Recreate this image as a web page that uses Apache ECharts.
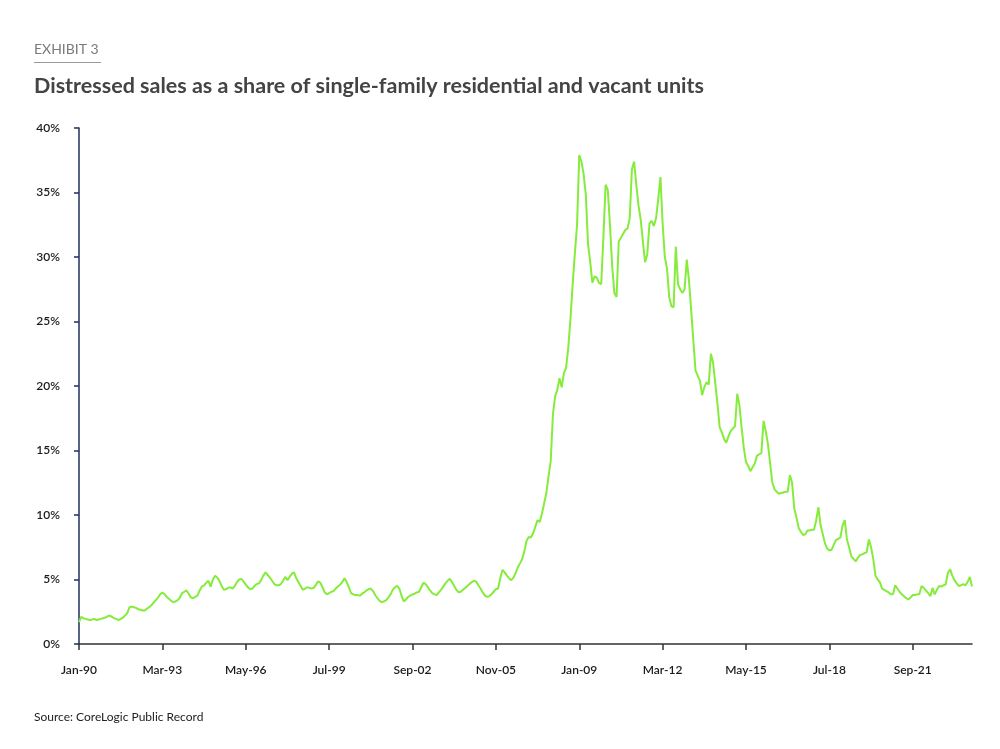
<!DOCTYPE html>
<html>
<head>
<meta charset="utf-8">
<script src="https://cdn.jsdelivr.net/npm/echarts@6/dist/echarts.min.js"></script>
<style>
html,body{margin:0;padding:0;background:#fff;}
#chart{width:1000px;height:749px;}
</style>
</head>
<body>
<div id="chart"></div>
<script>
// ---- Data (monthly, Jan 1990 - Dec 2023), % of sales ----
var startYear = 1990;
var monthNames = ['Jan','Feb','Mar','Apr','May','Jun','Jul','Aug','Sep','Oct','Nov','Dec'];

var v1990 = [1.7, 2.1, 2.0, 1.95, 1.9, 1.85, 1.9, 1.95, 1.85, 1.9, 1.95, 2.0];
var v1991 = [2.05, 2.15, 2.2, 2.1, 2.0, 1.95, 1.85, 1.95, 2.05, 2.2, 2.4, 2.85];
var v1992 = [2.9, 2.85, 2.8, 2.7, 2.65, 2.6, 2.6, 2.75, 2.85, 3.0, 3.2, 3.4];
var v1993 = [3.6, 3.85, 4.0, 3.85, 3.65, 3.5, 3.35, 3.25, 3.3, 3.4, 3.6, 3.95];
var v1994 = [4.05, 4.15, 3.9, 3.6, 3.55, 3.65, 3.75, 4.15, 4.45, 4.55, 4.75, 4.9];
var v1995 = [4.45, 5.0, 5.3, 5.15, 4.9, 4.5, 4.2, 4.25, 4.35, 4.4, 4.3, 4.5];
var v1996 = [4.8, 5.0, 5.05, 4.85, 4.6, 4.4, 4.25, 4.3, 4.5, 4.65, 4.7, 4.95];
var v1997 = [5.3, 5.55, 5.35, 5.15, 4.9, 4.65, 4.55, 4.55, 4.65, 4.9, 5.2, 4.95];
var v1998 = [5.2, 5.45, 5.55, 5.1, 4.8, 4.5, 4.2, 4.3, 4.4, 4.35, 4.3, 4.35];
var v1999 = [4.6, 4.85, 4.75, 4.4, 4.0, 3.85, 3.95, 4.05, 4.1, 4.3, 4.45, 4.6];
var v2000 = [4.8, 5.1, 4.8, 4.4, 3.95, 3.85, 3.8, 3.8, 3.75, 3.9, 4.0, 4.15];
var v2001 = [4.25, 4.3, 4.1, 3.8, 3.55, 3.35, 3.25, 3.3, 3.4, 3.6, 3.85, 4.2];
var v2002 = [4.4, 4.5, 4.3, 3.75, 3.3, 3.45, 3.65, 3.75, 3.85, 3.9, 4.0, 4.05];
var v2003 = [4.4, 4.75, 4.65, 4.4, 4.15, 3.95, 3.85, 3.8, 4.0, 4.2, 4.45, 4.7];
var v2004 = [4.9, 5.05, 4.8, 4.5, 4.2, 4.0, 4.05, 4.2, 4.35, 4.5, 4.65, 4.8];
var v2005 = [4.9, 4.85, 4.55, 4.3, 4.0, 3.75, 3.65, 3.7, 3.85, 4.05, 4.25, 4.3];
var v2006 = [5.1, 5.75, 5.55, 5.3, 5.1, 4.95, 5.15, 5.5, 5.95, 6.25, 6.6, 7.2];
var v2007 = [8.0, 8.3, 8.25, 8.6, 9.1, 9.6, 9.45, 10.1, 10.9, 11.7, 13.0, 14.2];
var v2008 = [17.8, 19.2, 19.7, 20.6, 19.9, 21.0, 21.4, 23.0, 25.2, 27.9, 30.3, 32.5];
var v2009 = [37.9, 37.4, 36.4, 34.8, 31.0, 29.6, 28.0, 28.5, 28.4, 28.0, 27.9, 31.5];
var v2010 = [35.6, 35.2, 32.5, 29.3, 27.2, 26.9, 31.2, 31.5, 31.8, 32.1, 32.2, 33.0];
var v2011 = [36.8, 37.4, 35.6, 34.0, 32.9, 31.2, 29.6, 30.2, 32.6, 32.8, 32.4, 33.0];
var v2012 = [34.5, 36.2, 32.6, 30.0, 29.1, 26.9, 26.2, 26.1, 30.8, 27.9, 27.5, 27.2];
var v2013 = [27.5, 29.8, 28.2, 25.9, 23.5, 21.2, 20.8, 20.4, 19.3, 19.9, 20.3, 20.1];
var v2014 = [22.5, 21.8, 20.2, 18.6, 16.8, 16.4, 15.9, 15.6, 16.1, 16.5, 16.7, 16.9];
var v2015 = [19.4, 18.5, 16.8, 15.2, 14.1, 13.8, 13.4, 13.7, 14.0, 14.6, 14.7, 14.8];
var v2016 = [17.3, 16.5, 15.5, 14.0, 12.5, 12.0, 11.8, 11.65, 11.7, 11.75, 11.8, 11.8];
var v2017 = [13.1, 12.5, 10.5, 9.8, 9.0, 8.7, 8.45, 8.5, 8.8, 8.8, 8.85, 8.85];
var v2018 = [9.6, 10.6, 9.2, 8.5, 7.8, 7.4, 7.25, 7.3, 7.7, 8.05, 8.15, 8.25];
var v2019 = [9.2, 9.6, 8.1, 7.5, 6.8, 6.6, 6.4, 6.7, 6.9, 6.95, 7.05, 7.1];
var v2020 = [8.1, 7.5, 6.6, 5.3, 5.0, 4.8, 4.3, 4.2, 4.1, 4.0, 3.85, 3.85];
var v2021 = [4.55, 4.3, 4.05, 3.85, 3.7, 3.55, 3.45, 3.6, 3.8, 3.8, 3.85, 3.85];
var v2022 = [4.5, 4.35, 4.15, 3.95, 3.7, 4.35, 3.85, 4.2, 4.5, 4.45, 4.55, 4.6];
var v2023 = [5.5, 5.8, 5.3, 4.95, 4.7, 4.5, 4.55, 4.65, 4.55, 4.8, 5.2, 4.45];

var yearly = [v1990,v1991,v1992,v1993,v1994,v1995,v1996,v1997,v1998,v1999,
              v2000,v2001,v2002,v2003,v2004,v2005,v2006,v2007,v2008,v2009,
              v2010,v2011,v2012,v2013,v2014,v2015,v2016,v2017,v2018,v2019,
              v2020,v2021,v2022,v2023];

var yTicks = [0, 5, 10, 15, 20, 25, 30, 35, 40];

var categories = [];
var values = [];
yearly.forEach(function (arr, k) {
  var yy = String((startYear + k) % 100).padStart(2, '0');
  arr.forEach(function (v, m) {
    categories.push(monthNames[m] + '-' + yy);
    values.push(v);
  });
});

var chart = echarts.init(document.getElementById('chart'), null, {renderer: 'canvas'});
var FONT = 'Lato, "Open Sans", sans-serif';
chart.setOption({
  backgroundColor: '#ffffff',
  animation: false,
  title: [
    {text: 'EXHIBIT 3', left: 34, top: 42, padding: 0,
     textStyle: {fontFamily: FONT, fontSize: 14, fontWeight: 'normal', color: '#7a7a7a'}},
    {text: 'Distressed sales as a share of single-family residential and vacant units', left: 34, top: 75, padding: 0,
     textStyle: {fontFamily: FONT, fontSize: 21.5, fontWeight: 'bold', color: '#444444'}},
    {text: 'Source: CoreLogic Public Record', left: 34, top: 711, padding: 0,
     textStyle: {fontFamily: FONT, fontSize: 12, fontWeight: 'normal', color: '#222222'}}
  ],
  graphic: [
    {type: 'line', shape: {x1: 34, y1: 62.5, x2: 101, y2: 62.5},
     style: {stroke: '#9a9a9a', lineWidth: 1}}
  ],
  grid: {left: 79, right: 28, top: 128, bottom: 105, containLabel: false},
  xAxis: {
    type: 'category',
    data: categories,
    boundaryGap: false,
    axisLine: {show: true, lineStyle: {color: '#333333', width: 1.5}},
    axisTick: {show: true, interval: 37, length: 6, lineStyle: {color: '#333333', width: 1.5}},
    axisLabel: {interval: 37, margin: 20, fontFamily: FONT, fontSize: 12, fontWeight: 600, color: '#1a1a1a'},
    splitLine: {show: false}
  },
  yAxis: {
    type: 'value',
    min: yTicks[0],
    max: yTicks[yTicks.length - 1],
    interval: 5,
    axisLine: {show: true, lineStyle: {color: '#1f2f5e', width: 1.5}},
    axisTick: {show: true, length: 5, lineStyle: {color: '#1f2f5e', width: 1.5}},
    axisLabel: {formatter: '{value}%', margin: 19, fontFamily: FONT, fontSize: 12, fontWeight: 600, color: '#1a1a1a'},
    splitLine: {show: false}
  },
  series: [{
    type: 'line',
    data: values,
    showSymbol: false,
    symbol: 'none',
    smooth: false,
    lineStyle: {color: '#86ec3c', width: 2},
    itemStyle: {color: '#86ec3c'}
  }]
});
</script>
</body>
</html>
